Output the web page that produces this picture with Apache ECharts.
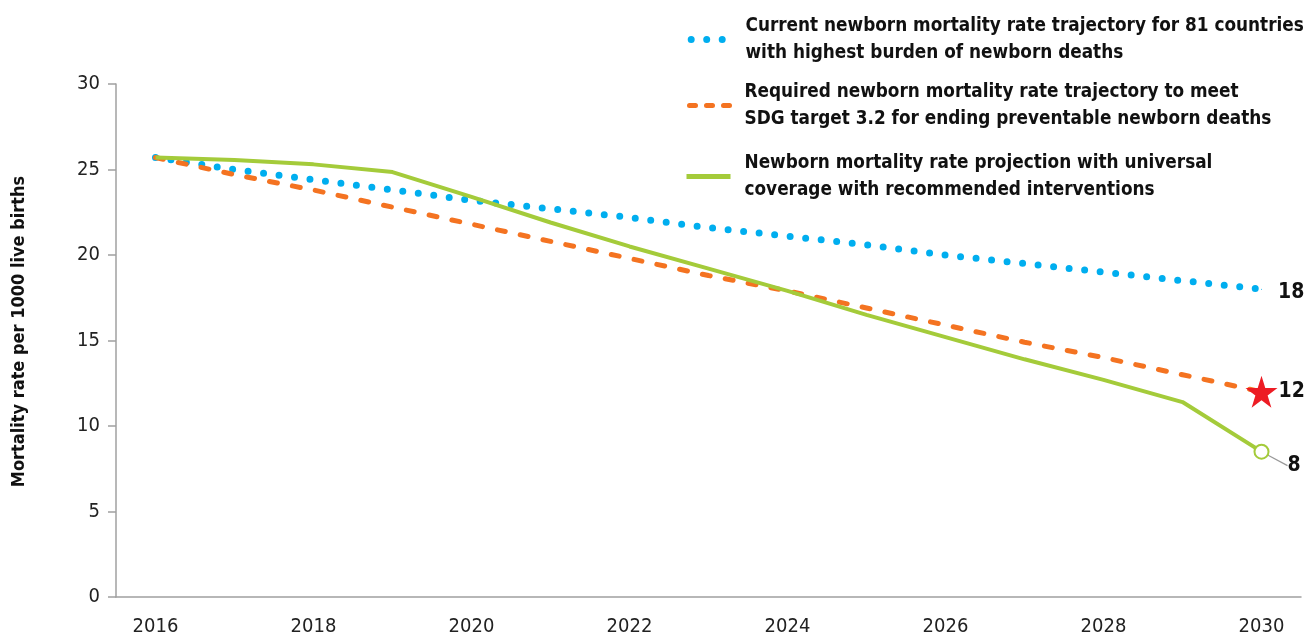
<!DOCTYPE html>
<html>
<head>
<meta charset="utf-8">
<script src="https://cdn.jsdelivr.net/npm/echarts@6/dist/echarts.min.js"></script>
<style>
  html, body { margin: 0; padding: 0; background: #fff; }
  #chart { width: 1305px; height: 640px; }
</style>
</head>
<body>
<div id="chart"></div>
<script>
// years on the x axis
var years = ['2016','2017','2018','2019','2020','2021','2022','2023','2024','2025','2026','2027','2028','2029','2030'];
// current trajectory (81 countries)
var currentRate = [25.7, 25.0, 24.4, 23.8, 23.2, 22.7, 22.2, 21.6, 21.1, 20.6, 20.0, 19.5, 19.0, 18.5, 18.0];
// required trajectory to meet SDG 3.2
var requiredRate = [25.7, 24.7, 23.8, 22.8, 21.8, 20.8, 19.8, 18.8, 17.9, 16.9, 15.9, 14.9, 14.0, 13.0, 12.0];
// projection with universal coverage
var universalRate = [25.7, 25.55, 25.3, 24.85, 23.4, 21.9, 20.5, 19.2, 17.9, 16.5, 15.2, 13.9, 12.7, 11.4, 8.5];
// end labels
var endLabels = ['18', '12', '8'];

var seriesNames = [
  'Current newborn mortality rate trajectory for 81 countries\nwith highest burden of newborn deaths',
  'Required newborn mortality rate trajectory to meet\nSDG target 3.2 for ending preventable newborn deaths',
  'Newborn mortality rate projection with universal\ncoverage with recommended interventions'
];

var FONT = '"DejaVu Sans Condensed", "Liberation Sans Narrow", sans-serif';
var starPath = 'path://M50,0 L61.8,36.2 L100,36.2 L69.1,58.8 L80.9,95.1 L50,72.7 L19.1,95.1 L30.9,58.8 L0,36.2 L38.2,36.2 Z';
var BLUE = '#00aeef', ORANGE = '#f47321', GREEN = '#a4cb3a';

var lastIdx = years.length - 1;

var greenData = universalRate.map(function (v, i) {
  if (i === lastIdx) {
    return {
      value: v,
      symbol: 'emptyCircle',
      symbolSize: 14,
      itemStyle: { color: GREEN, borderWidth: 3 },
      label: { show: true, formatter: endLabels[2], position: 'right', distance: 6 }
    };
  }
  return { value: v, symbol: 'none' };
});

var blueData = currentRate.map(function (v, i) {
  if (i === lastIdx) {
    return {
      value: v, symbol: 'circle', symbolSize: 1,
      label: { show: true, formatter: endLabels[0], position: 'right', distance: 16, offset: [0, 3] }
    };
  }
  return { value: v, symbol: 'none' };
});

function legendAt(name, top, lineStyle) {
  return {
    data: [name],
    left: 684,
    top: top,
    padding: 0,
    orient: 'vertical',
    itemWidth: 44,
    itemHeight: 14,
    selectedMode: false,
    itemStyle: { opacity: 0 },
    lineStyle: lineStyle,
    textStyle: {
      fontFamily: FONT, fontSize: 18.8, fontWeight: 'bold', color: '#111',
      lineHeight: 27.5, padding: [0, 0, 0, 9]
    }
  };
}

var chart = echarts.init(document.getElementById('chart'));
chart.setOption({
  animation: false,
  textStyle: { fontFamily: FONT },
  legend: [
    legendAt(seriesNames[0], 12, { width: 7, type: [0, 15.5], dashOffset: 11.8, cap: 'round', color: BLUE }),
    legendAt(seriesNames[1], 78, { width: 5, type: [6, 11], dashOffset: 14, cap: 'round', color: ORANGE }),
    legendAt(seriesNames[2], 149, { width: 5, cap: 'butt', color: GREEN })
  ],
  grid: { left: 116, right: 4, top: 84, bottom: 43 },
  xAxis: {
    type: 'category',
    data: years,
    boundaryGap: true,
    axisLine: { lineStyle: { color: '#a0a0a0', width: 1.5 } },
    axisTick: { alignWithLabel: true, interval: 1, length: 8, lineStyle: { color: '#a0a0a0', width: 1.5 } },
    axisLabel: { interval: 1, margin: 20, fontFamily: FONT, fontSize: 20, color: '#222' }
  },
  yAxis: {
    type: 'value',
    min: 0,
    max: 30,
    interval: 5,
    name: 'Mortality rate per 1000 live births',
    nameLocation: 'middle',
    nameGap: 88,
    nameTextStyle: { fontFamily: FONT, fontSize: 18, fontWeight: 'bold', color: '#111', padding: [0, 0, 0, 18] },
    axisLine: { show: true, lineStyle: { color: '#a0a0a0', width: 1.5 } },
    axisTick: { show: true, length: 8, lineStyle: { color: '#a0a0a0', width: 1.5 } },
    splitLine: { show: false },
    axisLabel: { margin: 16, fontFamily: FONT, fontSize: 20, color: '#222' }
  },
  series: [
    {
      name: seriesNames[0],
      type: 'line',
      data: blueData,
      symbol: 'none',
      showAllSymbol: true,
      color: BLUE,
      lineStyle: { color: BLUE, width: 7, type: [0, 15.6], cap: 'round' },
      label: { fontFamily: FONT, fontSize: 21, fontWeight: 'bold', color: '#111' },
      z: 2
    },
    {
      name: seriesNames[1],
      type: 'line',
      data: requiredRate,
      symbol: 'none',
      color: ORANGE,
      lineStyle: { color: ORANGE, width: 5, type: [8, 15.3], cap: 'round' },
      markPoint: {
        symbol: starPath,
        symbolSize: 32,
        itemStyle: { color: '#ed1c24' },
        label: {
          show: true, position: 'right', distance: 1,
          fontFamily: FONT, fontSize: 21, fontWeight: 'bold', color: '#111'
        },
        data: [{ coord: [years[lastIdx], requiredRate[lastIdx]], value: endLabels[1] }]
      },
      z: 3
    },
    {
      name: seriesNames[2],
      type: 'line',
      data: greenData,
      symbol: 'emptyCircle',
      showAllSymbol: true,
      color: GREEN,
      lineStyle: { color: GREEN, width: 4 },
      label: { fontFamily: FONT, fontSize: 21, fontWeight: 'bold', color: '#111' },
      labelLayout: function () { return { dx: 12, dy: 14 }; },
      labelLine: { show: true, lineStyle: { color: '#999', width: 1.2 } },
      z: 4
    }
  ]
});
</script>
</body>
</html>
